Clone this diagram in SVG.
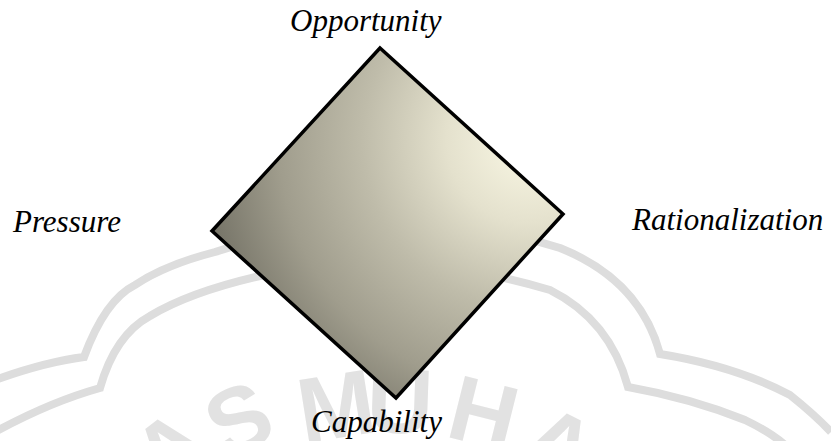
<svg xmlns="http://www.w3.org/2000/svg" width="831" height="441" viewBox="0 0 831 441">
  <style>
    .lbl { font-family: "Liberation Serif", "Times New Roman", serif; font-style: italic; font-size: 31px; fill: #000; }
    .wm { fill: none; stroke: #dddddd; stroke-width: 8; stroke-linejoin: miter; }
    .wmt { font-family: "Liberation Sans", Arial, sans-serif; font-weight: bold; font-size: 92px; fill: #e2e2e2; text-anchor: middle; }
  </style>
  <defs>
    <radialGradient id="fill" gradientUnits="userSpaceOnUse" cx="530" cy="140" r="335" fx="530" fy="140">
      <stop offset="0" stop-color="#fbf9e6"/>
      <stop offset="0.25" stop-color="#e4e1cd"/>
      <stop offset="0.5" stop-color="#bfbcaa"/>
      <stop offset="0.75" stop-color="#a09d8d"/>
      <stop offset="1" stop-color="#737165"/>
    </radialGradient>
  </defs>
  <rect x="0" y="0" width="831" height="441" fill="#ffffff"/>
  <g id="watermark">
    <path class="wm" d="M -5 380 Q 45 362 84 357 Q 105 300 135 285 Q 165 265 215 252 Q 390 195 560 248 Q 640 280 660 354 Q 735 366 790 395 Q 815 415 831 432"/>
    <path class="wm" d="M -5 432 Q 50 402 100 388 Q 115 335 150 316 Q 190 292 260 276 Q 400 245 550 290 Q 610 320 628 387 Q 690 398 745 420 Q 770 432 785 445"/>
    <text class="wmt" transform="translate(170,448) rotate(-38)" y="33">A</text>
    <text class="wmt" transform="translate(238,418) rotate(-24)" y="33">S</text>
    <text class="wmt" transform="translate(336,405) rotate(-9)" y="33">M</text>
    <text class="wmt" transform="translate(400,400) rotate(2)" y="33">U</text>
    <text class="wmt" transform="translate(484,412) rotate(14)" y="33">H</text>
    <text class="wmt" transform="translate(560,444) rotate(27)" y="33">A</text>
  </g>
  <g id="diamond">
    <polygon points="380,48 563,214 396,398 212,231" fill="url(#fill)" stroke="#000" stroke-width="3.5" stroke-linejoin="miter"/>
  </g>
  <g id="connectors"></g>
  <g id="label-opportunity"><text class="lbl" x="290" y="31">Opportunity</text></g>
  <g id="label-pressure"><text class="lbl" x="13" y="232">Pressure</text></g>
  <g id="label-rationalization"><text class="lbl" x="632" y="230">Rationalization</text></g>
  <g id="label-capability"><text class="lbl" x="311" y="432">Capability</text></g>
</svg>
